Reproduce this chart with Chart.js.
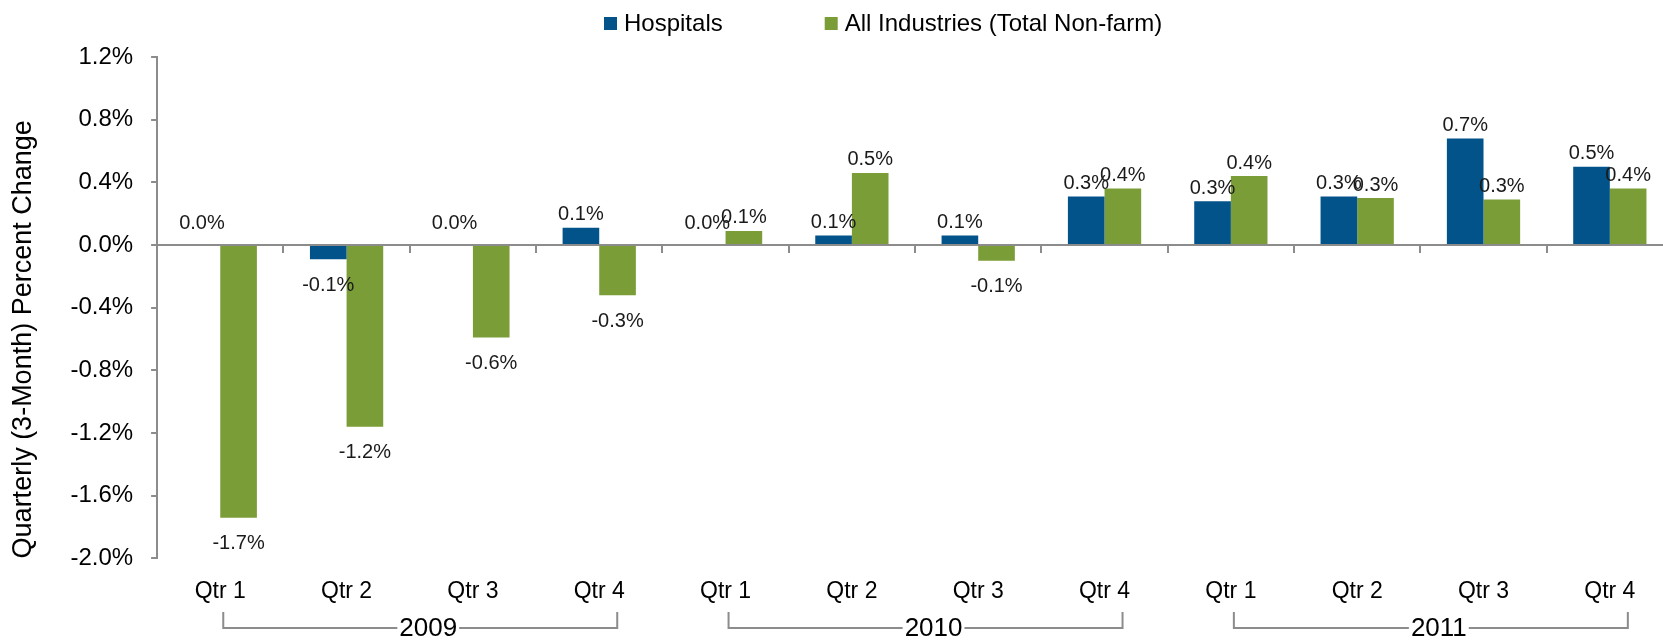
<!DOCTYPE html>
<html>
<head>
<meta charset="utf-8">
<title>Hospitals vs All Industries</title>
<script src="https://cdn.jsdelivr.net/npm/chart.js@4.4.1/dist/chart.umd.min.js"></script>
<style>
  html, body { margin: 0; padding: 0; background: #fff; overflow: hidden; }
  #wrap { width: 1673px; height: 640px; }
</style>
</head>
<body>
<div id="wrap"><canvas id="jobsChart"></canvas></div>
<script>
var quarters = ['Qtr 1', 'Qtr 2', 'Qtr 3', 'Qtr 4', 'Qtr 1', 'Qtr 2', 'Qtr 3', 'Qtr 4', 'Qtr 1', 'Qtr 2', 'Qtr 3', 'Qtr 4'];
var years = ['2009', '2010', '2011'];
var hospitals = [0.0, -0.09, 0.0, 0.11, 0.0, 0.06, 0.06, 0.31, 0.28, 0.31, 0.68, 0.50];
var allIndustries = [-1.74, -1.16, -0.59, -0.32, 0.09, 0.46, -0.10, 0.36, 0.44, 0.30, 0.29, 0.36];
var seriesNames = ['Hospitals', 'All Industries (Total Non-farm)'];

var FONT = '"Liberation Sans", Arial, sans-serif';
var axisGrey = '#8c8c8c';

// value labels above / below each bar
var barLabels = {
    id: 'barLabels',
    afterDatasetsDraw: function(chart) {
        var ctx = chart.ctx;
        ctx.save();
        ctx.font = '20px ' + FONT;
        ctx.fillStyle = '#1a1a1a';
        ctx.textAlign = 'center';
        ctx.textBaseline = 'middle';
        chart.data.datasets.forEach(function(ds, i) {
            chart.getDatasetMeta(i).data.forEach(function(bar, j) {
                var v = ds.data[j];
                var y = v > 0 ? bar.y - 13 : (v === 0 ? bar.y - 22 : bar.y + 26);
                ctx.fillText(v.toFixed(1) + '%', bar.x, y);
            });
        });
        ctx.restore();
    }
};

// legend on top + year brackets under the quarter labels
var extras = {
    id: 'extras',
    afterDraw: function(chart) {
        var ctx = chart.ctx;
        var x = chart.scales.x;
        ctx.save();

        // legend
        ctx.font = '24px ' + FONT;
        ctx.textBaseline = 'middle';
        ctx.textAlign = 'left';
        var lx = 604, ly = 23;
        chart.data.datasets.forEach(function(ds) {
            ctx.fillStyle = ds.backgroundColor;
            ctx.fillRect(lx, ly - 6, 13, 13);
            ctx.fillStyle = '#000';
            ctx.fillText(ds.label, lx + 20, ly + 1);
            lx += 20 + ctx.measureText(ds.label).width + 102;
        });

        // year brackets
        ctx.font = '26px ' + FONT;
        ctx.textAlign = 'center';
        ctx.strokeStyle = axisGrey;
        ctx.lineWidth = 2;
        var topY = 612, lineY = 628;
        years.forEach(function(yr, i) {
            var left = x.getPixelForValue(i * 4) + 3;
            var right = x.getPixelForValue(i * 4 + 3) + 18;
            var mid = (left + right) / 2 + 8;
            var half = ctx.measureText(yr).width / 2 + 2;
            ctx.beginPath();
            ctx.moveTo(left, topY);
            ctx.lineTo(left, lineY);
            ctx.lineTo(mid - half, lineY);
            ctx.moveTo(mid + half, lineY);
            ctx.lineTo(right, lineY);
            ctx.lineTo(right, topY);
            ctx.stroke();
            ctx.fillStyle = '#000';
            ctx.fillText(yr, mid, lineY + 1);
        });
        ctx.restore();
    }
};

var ctx = document.getElementById('jobsChart').getContext('2d');
new Chart(ctx, {
    type: 'bar',
    data: {
        labels: quarters,
        datasets: [{
            label: seriesNames[0],
            data: hospitals,
            backgroundColor: '#03538b'
        }, {
            label: seriesNames[1],
            data: allIndustries,
            backgroundColor: '#7b9d37'
        }]
    },
    options: {
        responsive: true,
        maintainAspectRatio: false,
        animation: false,
        layout: {
            padding: { top: 57, right: 0, bottom: 16, left: 0 }
        },
        plugins: {
            legend: { display: false },
            tooltip: { enabled: false }
        },
        datasets: {
            bar: { categoryPercentage: 0.58, barPercentage: 1.0 }
        },
        scales: {
            x: {
                grid: { display: false, drawTicks: false },
                border: { display: false },
                ticks: {
                    color: '#000',
                    font: { family: FONT, size: 23 },
                    padding: 19,
                    maxRotation: 0,
                    autoSkip: false
                }
            },
            x2: {
                type: 'category',
                axis: 'x',
                position: { y: 0 },
                offset: true,
                z: 1,
                grid: {
                    offset: true,
                    drawOnChartArea: false,
                    drawTicks: true,
                    tickLength: 7,
                    color: axisGrey,
                    lineWidth: 2
                },
                border: { display: true, color: axisGrey, width: 2 },
                ticks: { display: false }
            },
            y: {
                min: -2.0,
                max: 1.2,
                grid: {
                    drawOnChartArea: false,
                    drawTicks: true,
                    tickLength: 6,
                    color: axisGrey,
                    lineWidth: 2
                },
                border: { display: true, color: axisGrey, width: 2 },
                ticks: {
                    stepSize: 0.4,
                    color: '#000',
                    padding: 18,
                    font: { family: FONT, size: 24 },
                    callback: function(v) { return v.toFixed(1) + '%'; }
                },
                title: {
                    display: true,
                    text: 'Quarterly (3-Month) Percent Change',
                    align: 'start',
                    color: '#000',
                    font: { family: FONT, size: 27 },
                    padding: { top: 7, bottom: 13 }
                }
            }
        }
    },
    plugins: [barLabels, extras]
});
</script>
</body>
</html>
